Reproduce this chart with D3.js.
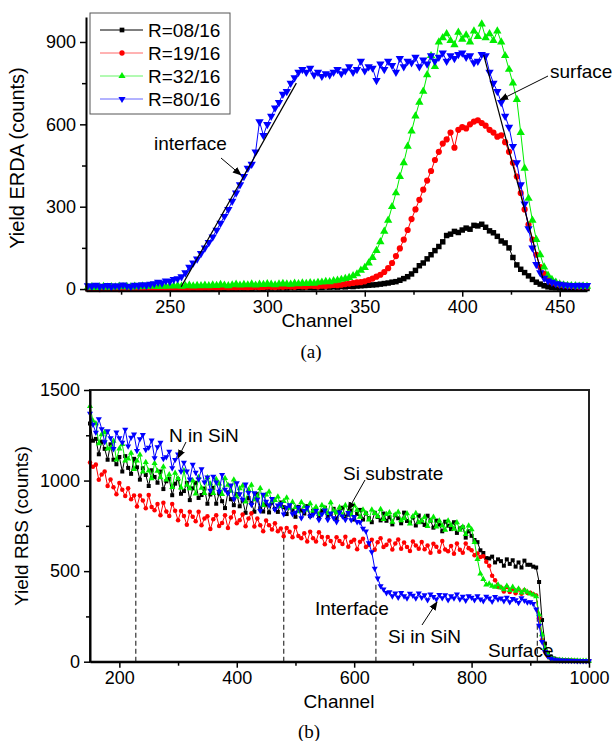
<!DOCTYPE html>
<html>
<head>
<meta charset="utf-8">
<script src="https://cdn.jsdelivr.net/npm/d3@7"></script>
<style>
body { margin: 0; background: #fff; }
svg text { font-family: Arial, "Liberation Sans", sans-serif; fill: #000; }
</style>
</head>
<body>
<svg id="fig" width="614" height="741"></svg>
<script>
// ---------- ERDA (panel a): channels 208..464, step 2 ----------
var erdaChannels = d3.range(208, 465, 2);
var erda08 = [
  1,0,2,1,0,1,2,0,1,0,
  1,2,0,1,2,1,0,2,1,2,
  1,2,3,1,2,2,3,1,2,3,
  2,3,2,4,3,2,4,3,3,4,
  3,4,3,5,4,3,5,4,5,4,
  5,4,6,5,6,5,7,6,5,7,
  6,8,7,8,7,9,8,10,9,11,
  12,13,14,15,16,18,20,22,25,27,
  32,38,45,55,68,85,95,110,125,140,
  155,172,195,200,210,206,215,222,218,232,
  230,236,225,212,205,192,175,168,150,115,
  88,72,60,48,35,25,18,12,8,6,
  5,4,3,3,2,2,3,2,2];
var erda19 = [
  2,1,3,0,2,1,3,2,0,2,
  1,3,2,1,4,2,3,1,2,3,
  2,4,3,5,2,4,3,5,4,3,
  5,4,6,3,5,7,4,6,5,7,
  6,5,7,8,6,7,9,8,7,9,
  8,10,9,8,11,10,9,12,11,10,
  12,11,13,15,14,16,18,20,22,24,
  25,28,33,38,45,52,62,76,95,120,
  148,180,215,255,290,325,362,395,430,470,
  500,530,545,570,515,580,590,585,600,610,
  615,605,595,580,570,555,560,535,500,460,
  410,350,290,235,180,125,80,55,35,25,
  20,16,14,12,11,10,9,10,9];
var erda32 = [
  6,8,5,7,9,6,8,7,10,8,
  9,7,10,8,11,9,12,10,9,11,
  10,12,11,13,10,12,14,11,13,12,
  14,12,15,13,16,14,12,15,17,14,
  16,15,18,14,17,16,19,17,15,18,
  20,18,17,21,19,22,20,23,21,24,
  25,27,26,30,32,35,38,42,48,55,
  68,78,95,115,140,172,210,250,300,350,
  410,460,520,575,630,680,720,780,850,810,
  900,915,930,905,890,935,910,925,900,940,
  920,965,915,930,905,940,900,850,800,750,
  690,570,440,330,250,180,125,80,50,35,
  25,18,15,13,12,12,10,11,10];
var erda80 = [
  12,10,14,9,11,13,8,12,10,15,
  11,9,14,12,16,13,18,20,25,22,
  30,28,35,38,45,60,80,95,110,130,
  150,170,190,215,240,265,290,320,350,380,
  410,440,455,500,610,560,600,630,660,680,
  710,720,750,770,790,800,790,805,780,790,
  775,785,780,790,800,785,795,810,790,800,
  830,795,810,805,760,820,800,830,815,790,
  840,810,830,825,845,810,835,820,850,830,
  845,860,830,850,840,855,860,845,850,825,
  830,855,850,790,750,720,680,630,590,520,
  460,380,310,220,150,90,60,40,30,25,
  20,18,15,14,13,12,14,12,13];
var erdaXTicks = [250, 300, 350, 400, 450];
var erdaXMinor = [225, 275, 325, 375, 425];
var erdaYTicks = [0, 300, 600, 900];
var erdaYMinor = [150, 450, 750];
var interfaceFit = [[255.8, 8], [314.9, 750]];
var surfaceFit = [[411.0, 853], [441.3, 40]];

// ---------- RBS (panel b): channels 150..1000, step 5 ----------
var rbsChannels = d3.range(150, 1001, 5);
var rbs08 = [
  1315,1220,1230,1145,1215,1175,1115,1200,1115,1090,
  1130,1050,1135,1070,1037,1120,1073,1005,1068,1031,
  970,1057,1020,988,1050,953,996,1010,919,983,
  1007,927,942,987,892,957,988,904,920,956,
  872,923,960,872,929,886,848,935,897,864,
  926,858,890,822,904,876,828,925,847,829,
  868,824,879,844,827,879,853,815,855,835,
  800,855,835,818,859,804,833,844,792,833,
  850,804,815,844,789,830,850,801,812,835,
  785,816,838,785,819,793,770,822,799,780,
  818,778,798,758,808,792,764,823,777,767,
  796,752,807,772,755,806,779,740,779,757,
  720,773,751,732,770,711,736,742,685,720,
  695,672,660,615,600,572,570,580,548,565,
  555,530,565,540,560,525,548,520,558,535,
  535,525,520,440,230,100,50,28,18,12,
  10,8,8,6,6,5,5,4,4,4,
  4];
var rbs19 = [
  1100,1076,1088,1004,1033,1050,970,1006,963,925,
  987,949,915,958,897,917,857,917,890,847,
  920,854,836,870,808,878,829,804,871,834,
  781,832,804,756,828,800,776,828,753,790,
  803,732,786,809,749,766,808,738,796,826,
  764,781,813,748,790,819,747,790,753,720,
  779,753,730,764,720,736,692,738,718,687,
  743,694,682,709,664,718,682,664,715,688,
  649,688,667,632,687,667,650,690,634,662,
  673,621,662,679,633,644,673,618,660,681,
  633,645,669,620,652,675,623,658,633,611,
  664,642,623,661,621,641,601,651,635,607,
  666,620,610,639,596,652,618,601,653,627,
  615,588,598,578,582,552,530,475,450,412,
  410,388,412,385,402,378,398,375,395,380,
  380,372,365,240,120,55,30,18,12,9,
  8,7,6,6,5,5,4,4,4,4,
  4];
var rbs32 = [
  1410,1330,1315,1205,1255,1267,1175,1180,1218,1115,
  1175,1200,1110,1121,1152,1063,1110,1142,1049,1101,
  1054,1012,1095,1053,1017,1076,1005,1034,963,1042,
  1011,961,1056,976,956,1001,927,1018,959,930,
  1017,983,930,1007,983,925,1013,975,942,1005,
  910,956,972,883,949,975,896,912,958,864,
  922,938,885,892,911,858,886,905,849,881,
  853,829,880,857,837,874,834,854,814,864,
  848,820,879,833,823,852,808,863,828,811,
  863,837,799,839,819,784,839,819,802,842,
  786,814,824,771,811,827,780,790,818,762,
  802,820,769,778,799,748,778,799,745,778,
  751,727,778,754,733,769,727,745,703,751,
  730,660,565,485,455,425,430,418,412,425,
  410,398,418,395,412,390,402,380,395,385,
  375,370,360,260,150,75,40,22,15,10,
  9,8,7,6,6,5,5,4,4,4,
  4];
var rbs80 = [
  1370,1310,1265,1340,1285,1213,1273,1235,1175,1267,
  1235,1210,1282,1190,1238,1255,1165,1230,1253,1170,
  1182,1223,1124,1185,1210,1120,1130,1160,1070,1115,
  1145,1050,1100,1051,1007,1088,1045,1007,1064,991,
  1018,945,1023,991,939,1032,951,930,974,898,
  987,926,895,979,933,867,931,895,834,923,
  885,864,900,840,864,870,814,851,865,816,
  824,851,794,833,851,801,811,833,783,814,
  836,784,819,794,772,825,803,784,822,782,
  800,772,770,735,720,655,605,515,460,418,
  400,380,385,362,378,355,380,362,350,376,
  365,350,378,355,368,340,372,358,345,370,
  352,368,340,362,350,372,345,360,338,362,
  355,340,362,345,335,360,350,332,358,345,
  350,335,355,330,348,340,325,352,338,328,
  330,320,290,200,110,55,30,18,12,9,
  8,7,6,6,5,5,4,4,4,4,
  4];
var rbsXTicks = [200, 400, 600, 800, 1000];
var rbsXMinor = [300, 500, 700, 900];
var rbsYTicks = [0, 500, 1000, 1500];
var rbsYMinor = [250, 750, 1250];
// dashed markers: [channel, top yield]
var rbsDashes = [[228, 820], [480, 718], [637, 430], [912, 340]];

var seriesNames = ["R=08/16", "R=19/16", "R=32/16", "R=80/16"];
var seriesColors = ["#000000", "#ff0000", "#00ee00", "#0000ff"];
var seriesShapes = ["square", "circle", "up", "down"];

var svg = d3.select("#fig");

function marker(sel, shape, size) {
  var type = shape === "square" ? d3.symbolSquare : shape === "circle" ? d3.symbolCircle : d3.symbolTriangle;
  sel.attr("d", d3.symbol().type(type).size(size));
  if (shape === "down") sel.attr("transform", function() { return d3.select(this).attr("transform") + " rotate(180)"; });
}

function drawSeries(g, x, y, chs, vals, i, msize, lw) {
  var pts = chs.map(function(c, k) { return [c, vals[k]]; }).filter(function(p) { return p[1] !== undefined; });
  g.append("path")
    .datum(pts)
    .attr("fill", "none")
    .attr("stroke", seriesColors[i])
    .attr("stroke-width", lw)
    .attr("d", d3.line().x(function(d) { return x(d[0]); }).y(function(d) { return y(d[1]); }));
  g.selectAll(null).data(pts).enter().append("path")
    .attr("fill", seriesColors[i])
    .attr("transform", function(d) { return "translate(" + x(d[0]) + "," + y(d[1]) + ")"; })
    .each(function() { marker(d3.select(this), seriesShapes[i], msize); });
}

function styleAxis(g, fs) {
  g.select(".domain").attr("stroke", "#000").attr("stroke-width", 2);
  g.selectAll(".tick line").attr("stroke", "#000").attr("stroke-width", 1.5);
  g.selectAll(".tick text").style("font-size", fs + "px").attr("fill", "#000");
}

function minorTicks(g) {
  g.select(".domain").remove();
  g.selectAll("line").attr("stroke", "#000").attr("stroke-width", 1.5);
}

function arrow(g, x1, y1, x2, y2) {
  g.append("line").attr("x1", x1).attr("y1", y1).attr("x2", x2).attr("y2", y2)
    .attr("stroke", "#000").attr("stroke-width", 1).attr("marker-end", "url(#ah)");
}

svg.append("defs").append("marker")
  .attr("id", "ah").attr("viewBox", "0 0 10 10").attr("refX", 9).attr("refY", 5)
  .attr("markerWidth", 9).attr("markerHeight", 9).attr("orient", "auto")
  .attr("markerUnits", "userSpaceOnUse")
  .append("path").attr("d", "M0,1 L10,5 L0,9 Z").attr("fill", "#000");

var fmt = d3.format("d");

// ================= panel (a) =================
var xa = d3.scaleLinear().domain([207, 464]).range([86, 587]);
var ya = d3.scaleLinear().domain([-6, 991]).range([290.7, 17]);
var ga = svg.append("g");

[erda08, erda19, erda32, erda80].forEach(function(v, i) { drawSeries(ga, xa, ya, erdaChannels, v, i, 30, 1); });

[interfaceFit, surfaceFit].forEach(function(f) {
  ga.append("line")
    .attr("x1", xa(f[0][0])).attr("y1", ya(f[0][1]))
    .attr("x2", xa(f[1][0])).attr("y2", ya(f[1][1]))
    .attr("stroke", "#000").attr("stroke-width", 1.2);
});

var axA = ga.append("g").attr("transform", "translate(0," + ya.range()[0] + ")")
  .call(d3.axisBottom(xa).tickValues(erdaXTicks).tickFormat(fmt).tickSize(6).tickSizeOuter(0).tickPadding(4));
styleAxis(axA, 18);
ga.append("g").attr("transform", "translate(0," + ya.range()[0] + ")")
  .call(d3.axisBottom(xa).tickValues(erdaXMinor).tickSize(4).tickFormat(""))
  .call(minorTicks);
var ayA = ga.append("g").attr("transform", "translate(86,0)")
  .call(d3.axisLeft(ya).tickValues(erdaYTicks).tickFormat(fmt).tickSize(6).tickSizeOuter(0).tickPadding(4));
styleAxis(ayA, 18);
ga.append("g").attr("transform", "translate(86,0)")
  .call(d3.axisLeft(ya).tickValues(erdaYMinor).tickSize(4).tickFormat(""))
  .call(minorTicks);

ga.append("text").attr("transform", "translate(24,158) rotate(-90)").attr("text-anchor", "middle")
  .style("font-size", "20px").text("Yield ERDA (counts)");
ga.append("text").attr("x", 317).attr("y", 327).attr("text-anchor", "middle")
  .style("font-size", "19px").text("Channel");
ga.append("text").attr("x", 311).attr("y", 358).attr("text-anchor", "middle")
  .style("font-family", "'Liberation Serif','Times New Roman',serif").style("font-size", "19px").text("(a)");

ga.append("text").attr("x", 154).attr("y", 150).style("font-size", "19px").text("interface");
arrow(ga, 221, 158, 241, 175);
ga.append("text").attr("x", 550).attr("y", 78).style("font-size", "19px").text("surface");
arrow(ga, 548, 76, 500, 100);

// legend
var lg = ga.append("g");
lg.append("rect").attr("x", 90).attr("y", 13).attr("width", 140).attr("height", 101)
  .attr("fill", "#fff").attr("stroke", "#555").attr("stroke-width", 1);
seriesNames.forEach(function(n, i) {
  var yy = 30 + i * 23;
  lg.append("line").attr("x1", 100).attr("x2", 143).attr("y1", yy).attr("y2", yy)
    .attr("stroke", seriesColors[i]).attr("stroke-width", 1).attr("stroke-opacity", i === 0 ? 1 : 0.6);
  lg.append("path").attr("fill", seriesColors[i]).attr("transform", "translate(122," + yy + ")")
    .each(function() { marker(d3.select(this), seriesShapes[i], 22); });
  lg.append("text").attr("x", 148).attr("y", yy + 7).style("font-size", "19px").text(n);
});

// ================= panel (b) =================
var xb = d3.scaleLinear().domain([150, 1000]).range([90, 589]);
var yb = d3.scaleLinear().domain([0, 1500]).range([661.7, 390]);
var gb = svg.append("g");

rbsDashes.forEach(function(d) {
  gb.append("line").attr("x1", xb(d[0])).attr("x2", xb(d[0]))
    .attr("y1", yb(0)).attr("y2", yb(d[1]))
    .attr("stroke", "#333").attr("stroke-width", 1.2).attr("stroke-dasharray", "5,3");
});

[rbs08, rbs19, rbs32, rbs80].forEach(function(v, i) { drawSeries(gb, xb, yb, rbsChannels, v, i, 16, 1); });

gb.append("rect").attr("x", 90).attr("y", 390).attr("width", 499).attr("height", 271.7)
  .attr("fill", "none").attr("stroke", "#222").attr("stroke-width", 2);

var axB = gb.append("g").attr("transform", "translate(0,661.7)")
  .call(d3.axisBottom(xb).tickValues(rbsXTicks).tickFormat(fmt).tickSize(6).tickSizeOuter(0).tickPadding(4));
styleAxis(axB, 18);
gb.append("g").attr("transform", "translate(0,661.7)")
  .call(d3.axisBottom(xb).tickValues(rbsXMinor).tickSize(4).tickFormat(""))
  .call(minorTicks);
var ayB = gb.append("g").attr("transform", "translate(90,0)")
  .call(d3.axisLeft(yb).tickValues(rbsYTicks).tickFormat(fmt).tickSize(6).tickSizeOuter(0).tickPadding(4));
styleAxis(ayB, 18);
gb.append("g").attr("transform", "translate(90,0)")
  .call(d3.axisLeft(yb).tickValues(rbsYMinor).tickSize(4).tickFormat(""))
  .call(minorTicks);

gb.append("text").attr("transform", "translate(28,526) rotate(-90)").attr("text-anchor", "middle")
  .style("font-size", "19px").text("Yield RBS (counts)");
gb.append("text").attr("x", 339).attr("y", 708).attr("text-anchor", "middle")
  .style("font-size", "19px").text("Channel");
gb.append("text").attr("x", 309).attr("y", 738).attr("text-anchor", "middle")
  .style("font-family", "'Liberation Serif','Times New Roman',serif").style("font-size", "19px").text("(b)");

gb.append("text").attr("x", 169).attr("y", 442).style("font-size", "19px").text("N in SiN");
arrow(gb, 186, 442, 178, 458);
gb.append("text").attr("x", 343).attr("y", 480).style("font-size", "19px").text("Si substrate");
arrow(gb, 365, 480, 348, 510);
gb.append("text").attr("x", 315).attr("y", 615).style("font-size", "19px").text("Interface");
gb.append("text").attr("x", 388).attr("y", 643).style("font-size", "19px").text("Si in SiN");
arrow(gb, 422, 625, 437, 602);
gb.append("text").attr("x", 488).attr("y", 657).style("font-size", "19px").text("Surface");
</script>
</body>
</html>
